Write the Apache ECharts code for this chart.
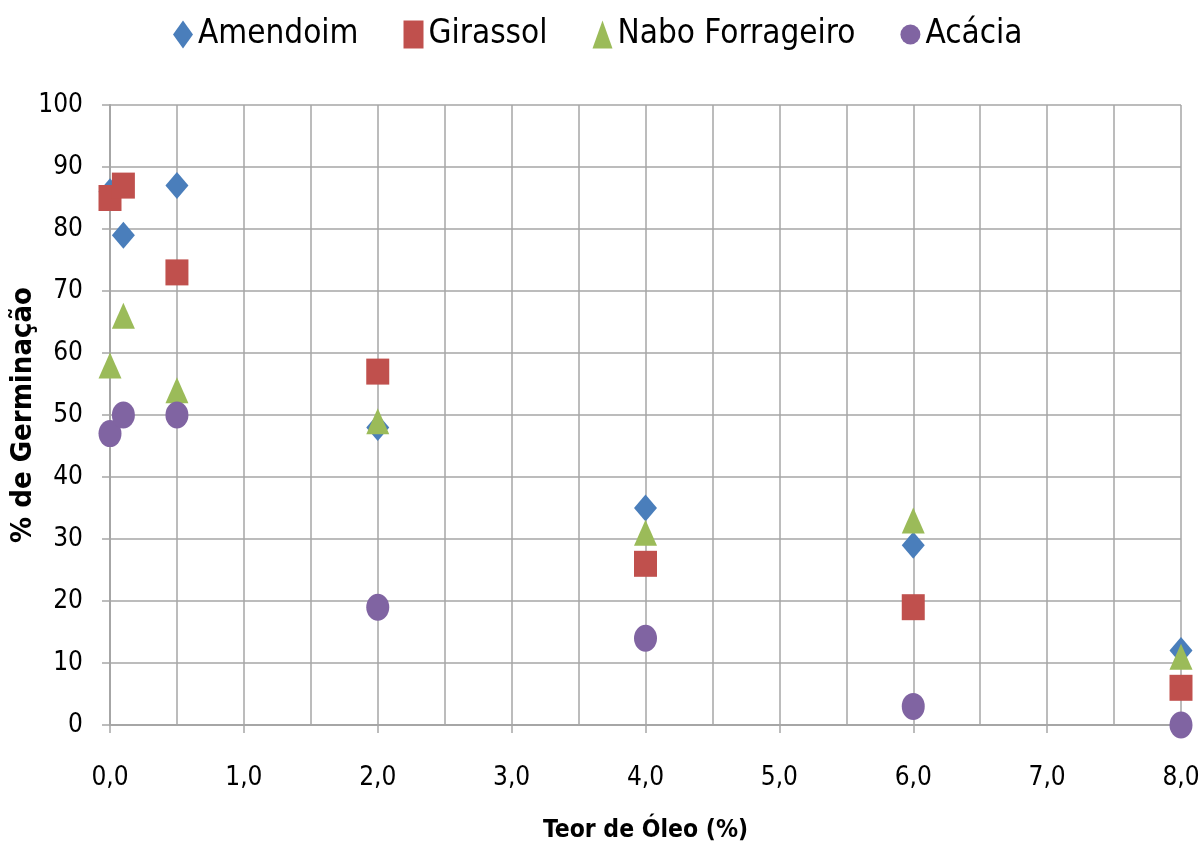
<!DOCTYPE html>
<html><head><meta charset="utf-8">
<script src="https://cdn.jsdelivr.net/npm/echarts@6/dist/echarts.min.js"></script>
<style>html,body{margin:0;padding:0;background:#fff}#c{width:1203px;height:848px}</style>
</head><body><div id="c"></div>
<script>
const xValues = [0.0, 0.1, 0.5, 2.0, 4.0, 6.0, 8.0];
const amendoim = [86, 79, 87, 48, 35, 29, 12];
const girassol = [85, 87, 73, 57, 26, 19, 6];
const nabo = [58, 66, 54, 49, 31, 33, 11];
const acacia = [47, 50, 50, 19, 14, 3, 0];
const seriesNames = ['Amendoim', 'Girassol', 'Nabo Forrageiro', 'Acácia'];

const FONT = '"DejaVu Sans Condensed", "Liberation Sans Narrow", sans-serif';
const pairs = arr => xValues.map((x, i) => [x, arr[i]]);
const chart = echarts.init(document.getElementById('c'));
const gridColor = '#a6a6a6';
chart.setOption({
  animation: false,
  backgroundColor: '#fff',
  legend: {
    top: 13, left: 168, itemGap: 45, itemWidth: 20, itemHeight: 28,
    textStyle: { fontFamily: FONT, fontSize: 33, color: '#000' },
    data: [
      { name: 'Amendoim', icon: 'diamond' },
      { name: 'Girassol', icon: 'rect' },
      { name: 'Nabo Forrageiro', icon: 'triangle' },
      { name: 'Acácia', icon: 'circle' }
    ]
  },
  grid: { left: 110, right: 22, top: 105, bottom: 123, containLabel: false, outerBoundsMode: 'none' },
  xAxis: {
    type: 'value', min: 0, max: 8, interval: 1,
    name: 'Teor de Óleo (%)', nameLocation: 'middle', nameGap: 93, nameMoveOverlap: false,
    nameTextStyle: { fontFamily: FONT, fontSize: 24.5, fontWeight: 'bold', color: '#000' },
    axisLine: { show: true, lineStyle: { color: gridColor, width: 2 } },
    axisTick: { show: true, inside: false, length: 8, lineStyle: { color: gridColor, width: 1.5 } },
    axisLabel: { margin: 40, fontFamily: FONT, fontSize: 26, color: '#000',
      formatter: v => v.toFixed(1).replace('.', ',') },
    splitLine: { show: true, lineStyle: { color: gridColor, width: 1.5 } },
    minorTick: { show: false, splitNumber: 2 },
    minorSplitLine: { show: true, lineStyle: { color: gridColor, width: 1.5 } }
  },
  yAxis: {
    type: 'value', min: 0, max: 100, interval: 10,
    name: '% de Germinação', nameLocation: 'middle', nameGap: 72, nameRotate: 90, nameMoveOverlap: false,
    nameTextStyle: { fontFamily: FONT, fontSize: 29, fontWeight: 'bold', color: '#000' },
    axisLine: { show: true, lineStyle: { color: gridColor, width: 2 } },
    axisTick: { show: true, inside: false, length: 8, lineStyle: { color: gridColor, width: 1.5 } },
    axisLabel: { margin: 27, fontFamily: FONT, fontSize: 26, color: '#000' },
    splitLine: { show: true, lineStyle: { color: gridColor, width: 1.5 } }
  },
  series: [
    { name: seriesNames[0], type: 'scatter', symbol: 'diamond', symbolSize: [23, 27],
      itemStyle: { color: '#4A7EBB', opacity: 1 }, data: pairs(amendoim) },
    { name: seriesNames[1], type: 'scatter', symbol: 'rect', symbolSize: [23, 26],
      itemStyle: { color: '#C0504D', opacity: 1 }, data: pairs(girassol) },
    { name: seriesNames[2], type: 'scatter', symbol: 'triangle', symbolSize: [23, 26],
      itemStyle: { color: '#9BBB59', opacity: 1 }, data: pairs(nabo) },
    { name: seriesNames[3], type: 'scatter', symbol: 'circle', symbolSize: [23, 27],
      itemStyle: { color: '#8064A2', opacity: 1 }, data: pairs(acacia) }
  ]
});
</script></body></html>
